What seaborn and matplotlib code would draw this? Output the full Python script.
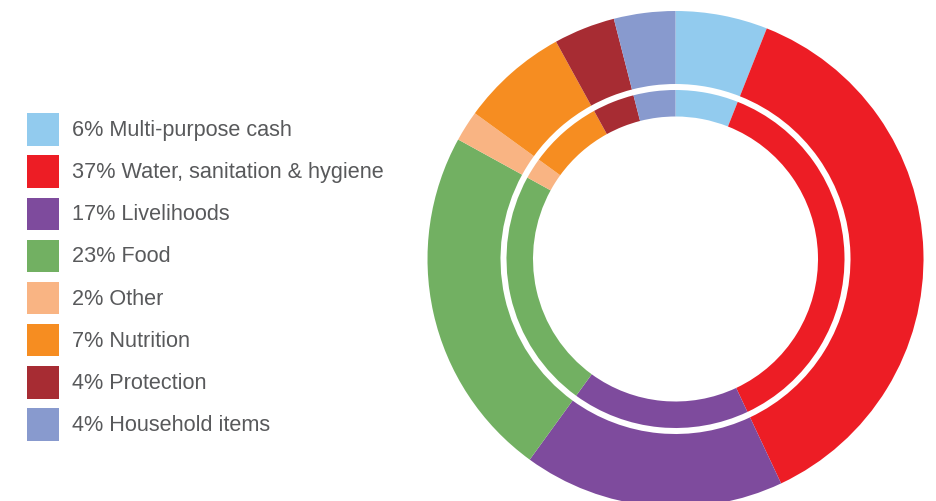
import matplotlib
matplotlib.use("Agg")
import matplotlib.pyplot as plt
from matplotlib.patches import Rectangle
import seaborn as sns

# Share of funding by sector (percent)
sectors = ["Multi-purpose cash", "Water, sanitation & hygiene", "Livelihoods",
           "Food", "Other", "Nutrition", "Protection", "Household items"]
shares = [6, 37, 17, 23, 2, 7, 4, 4]
colors = ["#92CBEE", "#ED1D25", "#7E4B9D", "#72B062",
          "#F9B483", "#F68D21", "#A72C33", "#889ACE"]

sns.set_theme(style="white")
plt.rcParams["font.family"] = ["Liberation Sans", "DejaVu Sans"]

W, H = 937, 502
fig = plt.figure(figsize=(W / 100, H / 100), dpi=100)
fig.patch.set_facecolor("white")

# Pie axes: 500 px square, centred at (675.5, 260) px from the top-left
cx, cy, half = 675.5, 260.0, 250.0
ax = fig.add_axes([(cx - half) / W, (H - cy - half) / H, 2 * half / W, 2 * half / H])

palette = sns.color_palette(colors)
outer_r, outer_w = 248 / half, (248 - 175) / half
inner_r, inner_w = 169 / half, (169 - 142.5) / half

ax.pie(shares, colors=palette, startangle=90, counterclock=False,
       radius=outer_r, wedgeprops=dict(width=outer_w, linewidth=0))
ax.pie(shares, colors=palette, startangle=90, counterclock=False,
       radius=inner_r, wedgeprops=dict(width=inner_w, linewidth=0))
ax.set_xlim(-1, 1)
ax.set_ylim(-1, 1)
ax.set_aspect("equal")
ax.axis("off")

# Legend: coloured squares with percentage labels
sq_x, sq_top, sq_size, step = 26.7, 114.3, 32.6, 42.1
text_x = 71.7
for i, (name, val, col) in enumerate(zip(sectors, shares, palette)):
    top = sq_top + i * step
    fig.patches.append(Rectangle((sq_x / W, (H - top - sq_size) / H),
                                 sq_size / W, sq_size / H,
                                 transform=fig.transFigure, facecolor=col,
                                 edgecolor="none"))
    fig.text(text_x / W, (H - (top + 21.9)) / H, f"{val}% {name}",
             fontsize=15.6, color="#58595B", ha="left", va="baseline")

fig.savefig("out.png", dpi=100, facecolor="white")
